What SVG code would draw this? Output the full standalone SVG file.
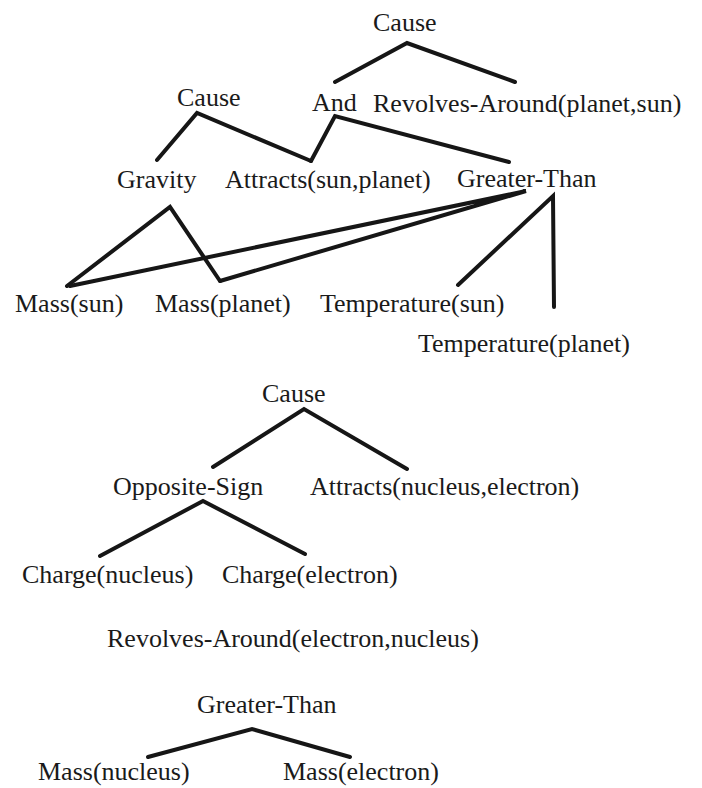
<svg xmlns="http://www.w3.org/2000/svg" width="702" height="788" viewBox="0 0 702 788">
<style>
text{font-family:"Liberation Serif","Times New Roman",serif;font-size:26px;fill:#1a1a1a}
.e{fill:none;stroke:#161616;stroke-width:4;stroke-linejoin:miter;stroke-linecap:round}
</style>
<rect width="702" height="788" fill="#fff"/>
<g id="connectors">
<path class="e" d="M335,82 L407,43 L515,82"/>
<path class="e" d="M157,160 L197,113 L311,161"/>
<path class="e" d="M311,161 L335,116 L509,162"/>
<path class="e" d="M67,286 L170,207 L220,281"/>
<path class="e" d="M70,286 L526,191 L220,281"/>
<path class="e" d="M458,285 L553,196 L554,307"/>
<path class="e" d="M213,467 L304,409 L407,469"/>
<path class="e" d="M100,556 L203,501 L305,554"/>
<path class="e" d="M148,757 L252,729 L350,757"/>
</g>
<g id="n-cause-top"><text x="373" y="31">Cause</text></g>
<g id="n-cause-2"><text x="177" y="106">Cause</text></g>
<g id="n-and"><text x="312" y="111">And</text></g>
<g id="n-revolves-planet"><text x="373" y="112">Revolves-Around(planet,sun)</text></g>
<g id="n-gravity"><text x="117" y="188">Gravity</text></g>
<g id="n-attracts-sun"><text x="225" y="188">Attracts(sun,planet)</text></g>
<g id="n-greater-1"><text x="457" y="187">Greater-Than</text></g>
<g id="n-mass-sun"><text x="15" y="312">Mass(sun)</text></g>
<g id="n-mass-planet"><text x="155" y="312">Mass(planet)</text></g>
<g id="n-temp-sun"><text x="320" y="312">Temperature(sun)</text></g>
<g id="n-temp-planet"><text x="418" y="352">Temperature(planet)</text></g>
<g id="n-cause-3"><text x="262" y="402">Cause</text></g>
<g id="n-opposite"><text x="113" y="495">Opposite-Sign</text></g>
<g id="n-attracts-nucleus"><text x="310" y="495">Attracts(nucleus,electron)</text></g>
<g id="n-charge-nucleus"><text x="22" y="583">Charge(nucleus)</text></g>
<g id="n-charge-electron"><text x="222" y="583">Charge(electron)</text></g>
<g id="n-revolves-electron"><text x="107" y="647">Revolves-Around(electron,nucleus)</text></g>
<g id="n-greater-2"><text x="197" y="713">Greater-Than</text></g>
<g id="n-mass-nucleus"><text x="38" y="780">Mass(nucleus)</text></g>
<g id="n-mass-electron"><text x="283" y="780">Mass(electron)</text></g>
</svg>
